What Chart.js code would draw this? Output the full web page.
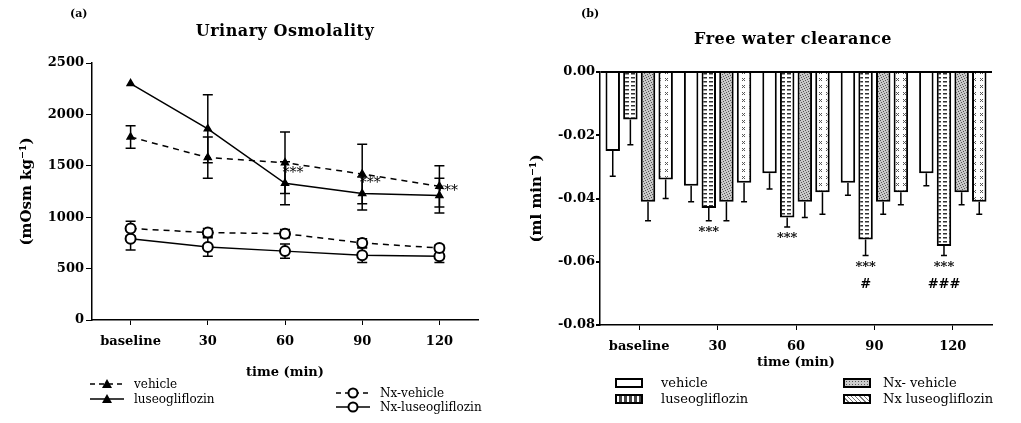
<!DOCTYPE html>
<html>
<head>
<meta charset="utf-8">
<script src="https://cdn.jsdelivr.net/npm/chart.js@4.4.1/dist/chart.umd.min.js"></script>
<style>
  body { margin: 0; width: 1021px; height: 423px; background: #fff; overflow: hidden; position: relative; font-family: 'DejaVu Serif', 'Liberation Serif', serif; color: #000; }
  canvas { position: absolute; top: 0; }
  #osm { left: 0; }
  #fwc { left: 510px; }
  .txt { position: absolute; white-space: nowrap; }
  .title { font-weight: bold; font-size: 16px; letter-spacing: 0.5px; text-align: center; }
  .panel { font-size: 11px; font-weight: bold; }
  .leg { position: absolute; display: flex; align-items: center; font-size: 12px; white-space: nowrap; }
  .leg svg { margin-right: 10px; }
  .box { display: inline-block; width: 24px; height: 6px; border: 2px solid #000; margin-right: 18px; }
</style>
</head>
<body>
<canvas id="osm" width="510" height="423"></canvas>
<canvas id="fwc" width="511" height="423"></canvas>

<div class="txt panel" style="left:70px; top:7px;">(a)</div>
<div class="txt title" style="left:175px; top:21px; width:220px;">Urinary Osmolality</div>
<div class="txt panel" style="left:581px; top:7px;">(b)</div>
<div class="txt title" style="left:683px; top:29px; width:220px;">Free water clearance</div>

<!-- legend (a) -->
<div class="leg" style="left:90px; top:377px;">
  <svg width="34" height="12"><line x1="0" y1="6" x2="34" y2="6" stroke="#000" stroke-width="1.5" stroke-dasharray="5,4"/><polygon points="17,1 22,10 12,10" fill="#000"/></svg>vehicle</div>
<div class="leg" style="left:90px; top:392px;">
  <svg width="34" height="12"><line x1="0" y1="6" x2="34" y2="6" stroke="#000" stroke-width="1.5"/><polygon points="17,1 22,10 12,10" fill="#000"/></svg>luseogliflozin</div>
<div class="leg" style="left:336px; top:386px;">
  <svg width="34" height="12"><line x1="0" y1="6" x2="34" y2="6" stroke="#000" stroke-width="1.5" stroke-dasharray="5,4"/><circle cx="17" cy="6" r="4.5" fill="#fff" stroke="#000" stroke-width="2"/></svg>Nx-vehicle</div>
<div class="leg" style="left:336px; top:400px;">
  <svg width="34" height="12"><line x1="0" y1="6" x2="34" y2="6" stroke="#000" stroke-width="1.5"/><circle cx="17" cy="6" r="4.5" fill="#fff" stroke="#000" stroke-width="2"/></svg>Nx-luseogliflozin</div>

<!-- legend (b) -->
<div class="leg" style="left:615px; top:375px; font-size:13px;"><span class="box" style="background:#fff;"></span>vehicle</div>
<div class="leg" style="left:615px; top:391px; font-size:13px;"><span class="box" style="background:repeating-linear-gradient(90deg,#fff 0 2px,#444 2px 5px);"></span>luseogliflozin</div>
<div class="leg" style="left:843px; top:375px; font-size:13px;"><span class="box" style="background:radial-gradient(#555 35%, #ccc 40%) 0 0/3px 3px; margin-right:12px;"></span>Nx- vehicle</div>
<div class="leg" style="left:843px; top:391px; font-size:13px;"><span class="box" style="background:repeating-linear-gradient(45deg,#fff 0 2px,#777 2px 3px); margin-right:12px;"></span>Nx luseogliflozin</div>

<script>
// categories
const timeLabels = ['baseline', '30', '60', '90', '120'];

// (a) urinary osmolality, mOsm/kg, mean and error
const osmVehicle = [1780, 1580, 1530, 1420, 1300];
const osmVehicleErr = [110, 200, 300, 290, 200];
const osmLuseo = [2300, 1860, 1330, 1230, 1210];
const osmLuseoErr = [0, 330, 210, 160, 170];
const osmNxVehicle = [890, 850, 840, 750, 700];
const osmNxVehicleErr = [70, 40, 40, 40, 30];
const osmNxLuseo = [790, 710, 670, 630, 620];
const osmNxLuseoErr = [110, 90, 70, 70, 60];
const osmMarks = ['', '', '***', '***', '***'];
const osmTicks = [0, 500, 1000, 1500, 2000, 2500];

// (b) free water clearance, ml/min
const fwcVehicle = [-0.025, -0.036, -0.032, -0.035, -0.032];
const fwcVehicleErr = [0.008, 0.005, 0.005, 0.004, 0.004];
const fwcLuseo = [-0.015, -0.043, -0.046, -0.053, -0.055];
const fwcLuseoErr = [0.008, 0.004, 0.003, 0.005, 0.003];
const fwcNxVehicle = [-0.041, -0.041, -0.041, -0.041, -0.038];
const fwcNxVehicleErr = [0.006, 0.006, 0.005, 0.004, 0.004];
const fwcNxLuseo = [-0.034, -0.035, -0.038, -0.038, -0.041];
const fwcNxLuseoErr = [0.006, 0.006, 0.007, 0.004, 0.004];
const fwcMarks = ['', '***', '***', '***|#', '***|###'];
const fwcTicks = [0, -0.02, -0.04, -0.06, -0.08];

const serif = "'DejaVu Serif', 'Liberation Serif', serif";

function makePattern(w, h, bg, draw){
  let c = document.createElement('canvas');
  c.width = w; c.height = h;
  let g = c.getContext('2d');
  g.fillStyle = bg;
  g.fillRect(0, 0, w, h);
  draw(g);
  return g.createPattern(c, 'repeat');
}

let stripes = makePattern(6, 4, '#fff', g => {
  g.fillStyle = '#333';
  g.fillRect(1, 1, 4, 1.5);
});
let stipple = makePattern(5, 5, '#c8c8c8', g => {
  g.fillStyle = '#555';
  [[0, 0], [3, 1], [1, 2], [4, 3], [2, 4]].forEach(p => g.fillRect(p[0], p[1], 1, 1));
});
let crosses = makePattern(7, 7, '#fff', g => {
  g.strokeStyle = '#555'; g.lineWidth = 1;
  g.beginPath();
  g.moveTo(1, 1); g.lineTo(4, 4); g.moveTo(4, 1); g.lineTo(1, 4);
  g.stroke();
});

// error bars drawn through the y scale
const errorBars = {
  id: 'errorBars',
  beforeDatasetsDraw(chart, args, opts){ if (!opts.after) drawErrors(chart, opts); },
  afterDatasetsDraw(chart, args, opts){ if (opts.after) drawErrors(chart, opts); }
};

function drawErrors(chart, opts){
  let ctx = chart.ctx, y = chart.scales.y;
  chart.data.datasets.forEach((ds, i) => {
    if (!ds.errors) return;
    let meta = chart.getDatasetMeta(i);
    ctx.save();
    ctx.strokeStyle = '#000';
    ctx.lineWidth = opts.width;
    meta.data.forEach((el, j) => {
      let e = ds.errors[j];
      if (!e) return;
      let v = ds.data[j];
      let ends = opts.oneSided ? [v - e] : [v + e, v - e];
      ctx.beginPath();
      ends.forEach(end => {
        let py = y.getPixelForValue(end);
        ctx.moveTo(el.x, y.getPixelForValue(v));
        ctx.lineTo(el.x, py);
        ctx.moveTo(el.x - opts.cap, py);
        ctx.lineTo(el.x + opts.cap, py);
      });
      ctx.stroke();
    });
    ctx.restore();
  });
}

// significance marks
const sigMarks = {
  id: 'sigMarks',
  afterDatasetsDraw(chart, args, opts){
    let ctx = chart.ctx, y = chart.scales.y;
    let ds = chart.data.datasets[opts.dataset];
    let meta = chart.getDatasetMeta(opts.dataset);
    ctx.save();
    ctx.fillStyle = '#000';
    ctx.textAlign = 'center';
    ctx.textBaseline = 'middle';
    ctx.font = opts.font;
    opts.marks.forEach((m, j) => {
      if (!m) return;
      let el = meta.data[j];
      let py;
      if (opts.pair != null) {
        let other = chart.data.datasets[opts.pair].data[j];
        py = y.getPixelForValue((ds.data[j] + other) / 2);
      } else {
        py = y.getPixelForValue(ds.data[j] - ds.errors[j]) + opts.gap;
      }
      m.split('|').forEach((line, k) => {
        ctx.fillText(line, el.x + opts.dx, py + k * opts.lineGap);
      });
    });
    ctx.restore();
  }
};

const axisFont = { family: serif, size: 13, weight: 'bold' };

new Chart(document.getElementById('osm'), {
  type: 'line',
  data: {
    labels: timeLabels,
    datasets: [
      { label: 'vehicle', data: osmVehicle, errors: osmVehicleErr, borderColor: '#000', borderWidth: 1.5, borderDash: [6, 5],
        pointStyle: 'triangle', pointRadius: 4, pointBackgroundColor: '#000', pointBorderColor: '#000' },
      { label: 'luseogliflozin', data: osmLuseo, errors: osmLuseoErr, borderColor: '#000', borderWidth: 1.5,
        pointStyle: 'triangle', pointRadius: 4, pointBackgroundColor: '#000', pointBorderColor: '#000' },
      { label: 'Nx-vehicle', data: osmNxVehicle, errors: osmNxVehicleErr, borderColor: '#000', borderWidth: 1.5, borderDash: [6, 5],
        pointStyle: 'circle', pointRadius: 5, pointBorderWidth: 2, pointBackgroundColor: '#fff', pointBorderColor: '#000' },
      { label: 'Nx-luseogliflozin', data: osmNxLuseo, errors: osmNxLuseoErr, borderColor: '#000', borderWidth: 1.5,
        pointStyle: 'circle', pointRadius: 5, pointBorderWidth: 2, pointBackgroundColor: '#fff', pointBorderColor: '#000' }
    ]
  },
  plugins: [errorBars, sigMarks],
  options: {
    responsive: false,
    animation: false,
    devicePixelRatio: 1,
    layout: { padding: { left: 18, top: 63, right: 32, bottom: 43 } },
    plugins: {
      legend: { display: false },
      tooltip: { enabled: false },
      errorBars: { cap: 5, width: 1.5, oneSided: false, after: false },
      sigMarks: { dataset: 0, pair: 1, marks: osmMarks, dx: 8, font: '14px ' + serif, lineGap: 0 }
    },
    scales: {
      x: {
        offset: true,
        grid: { display: true, drawOnChartArea: false, offset: false, tickLength: 5, tickColor: '#000' },
        border: { color: '#000', width: 1.5 },
        ticks: { color: '#000', font: axisFont, padding: 9, maxRotation: 0 },
        title: { display: true, text: 'time (min)', color: '#000', font: axisFont, padding: 0 },
        afterFit: s => { s.height = 60; }
      },
      y: {
        min: 0, max: 2500,
        afterBuildTicks: s => { s.ticks = osmTicks.map(v => ({ value: v })); },
        grid: { display: true, drawOnChartArea: false, tickLength: 6, tickColor: '#000' },
        border: { color: '#000', width: 1.5 },
        ticks: { color: '#000', font: axisFont, padding: 2, callback: v => String(v) },
        title: { display: true, text: '(mOsm kg⁻¹)', color: '#000', font: { family: serif, size: 15, weight: 'bold' }, padding: 0 },
        afterFit: s => { s.width = 74; }
      }
    }
  }
});

new Chart(document.getElementById('fwc'), {
  type: 'bar',
  data: {
    labels: timeLabels,
    datasets: [
      { label: 'vehicle', data: fwcVehicle, errors: fwcVehicleErr, backgroundColor: '#fff' },
      { label: 'luseogliflozin', data: fwcLuseo, errors: fwcLuseoErr, backgroundColor: stripes },
      { label: 'Nx- vehicle', data: fwcNxVehicle, errors: fwcNxVehicleErr, backgroundColor: stipple },
      { label: 'Nx luseogliflozin', data: fwcNxLuseo, errors: fwcNxLuseoErr, backgroundColor: crosses }
    ]
  },
  plugins: [errorBars, sigMarks],
  options: {
    responsive: false,
    animation: false,
    devicePixelRatio: 1,
    layout: { padding: { left: 18, top: 72, right: 29, bottom: 53 } },
    datasets: {
      bar: { borderColor: '#000', borderWidth: 2, categoryPercentage: 0.9, barPercentage: 0.82 }
    },
    plugins: {
      legend: { display: false },
      tooltip: { enabled: false },
      errorBars: { cap: 3, width: 1.5, oneSided: true, after: true },
      sigMarks: { dataset: 1, marks: fwcMarks, dx: 0, gap: 12, font: 'bold 13px ' + serif, lineGap: 17 }
    },
    scales: {
      x: {
        offset: true,
        grid: { display: true, drawOnChartArea: false, offset: false, tickLength: 5, tickColor: '#000' },
        border: { color: '#000', width: 1.5 },
        ticks: { color: '#000', font: axisFont, padding: 9, maxRotation: 0 },
        title: { display: true, text: 'time (min)', color: '#000', font: axisFont, padding: 0 },
        afterFit: s => { s.height = 45; }
      },
      y: {
        min: -0.08, max: 0,
        afterBuildTicks: s => { s.ticks = fwcTicks.map(v => ({ value: v })); },
        grid: {
          display: true, drawOnChartArea: true, tickLength: 4, tickColor: '#000', lineWidth: 2,
          color: c => (c.tick && c.tick.value === 0) ? '#000' : 'rgba(0,0,0,0)'
        },
        border: { color: '#000', width: 1.5 },
        ticks: { color: '#000', font: axisFont, padding: 1, callback: v => v.toFixed(2) },
        title: { display: true, text: '(ml min⁻¹)', color: '#000', font: { family: serif, size: 15, weight: 'bold' }, padding: 0 },
        afterFit: s => { s.width = 72; }
      }
    }
  }
});
</script>
</body>
</html>
